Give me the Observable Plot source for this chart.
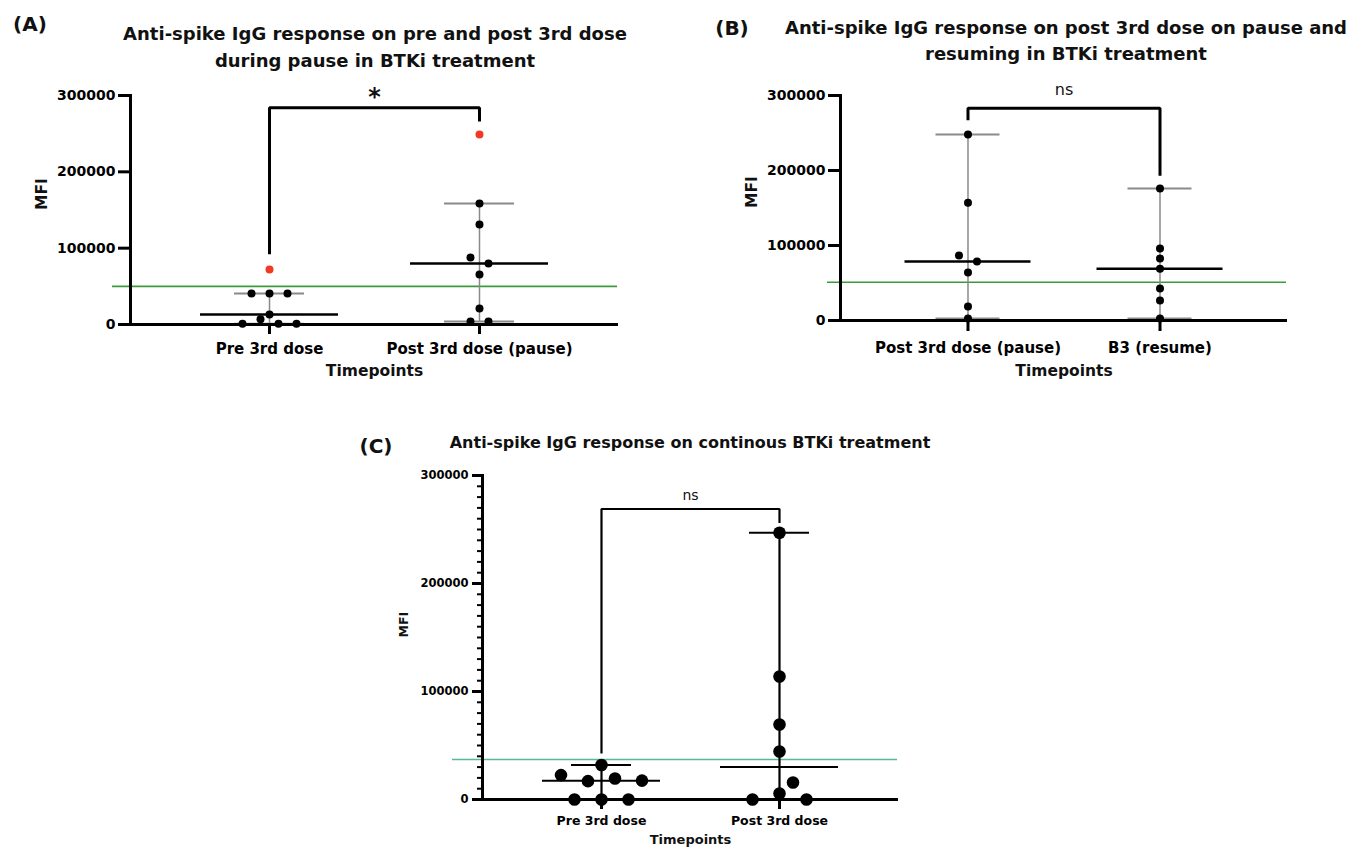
<!DOCTYPE html>
<html><head><meta charset="utf-8">
<script src="https://cdn.jsdelivr.net/npm/d3@7"></script>
<script src="https://cdn.jsdelivr.net/npm/@observablehq/plot@0.6"></script>
<style>
body{margin:0;background:#fff;font-family:"DejaVu Sans",sans-serif;}
#page{position:relative;width:1367px;height:852px;overflow:hidden;background:#fff}
.t{position:absolute;white-space:nowrap;font-weight:bold;color:#111;text-align:center;font-family:"DejaVu Sans",sans-serif}
</style></head><body><div id="page"></div>
<script>
// ---------- DATA ----------
const yTicks = [0, 100000, 200000, 300000];
const yMax = 300000;

// Panel A
const aTitle = ["Anti-spike IgG response on pre and post 3rd dose", "during pause in BTKi treatment"];
const aCategories = ["Pre 3rd dose", "Post 3rd dose (pause)"];
const aPre = [40500, 40500, 40500, 13000, 1000, 7000, 1000, 1000];
const aPreOutliers = [72000];
const aPost = [158500, 131000, 87800, 79900, 65500, 21000, 3900, 3900];
const aPostOutliers = [249000];
const aThreshold = 50000;
const aBracket = [92000, 284000, 266000];
const aSignif = "*";

// Panel B
const bTitle = ["Anti-spike IgG response on post 3rd dose on pause and", "resuming in BTKi treatment"];
const bCategories = ["Post 3rd dose (pause)", "B3 (resume)"];
const bPost = [248000, 157000, 86700, 78700, 64000, 18700, 2700];
const bResume = [176000, 96000, 82700, 69000, 42700, 26700, 2700];
const bThreshold = 51000;
const bBracket = [267000, 283000, 193000];
const bSignif = "ns";

// Panel C
const cTitle = ["Anti-spike IgG response on continous BTKi treatment"];
const cCategories = ["Pre 3rd dose", "Post 3rd dose"];
const cPre = [32000, 22600, 17000, 19500, 17500, 0, 0, 0];
const cPost = [247000, 113900, 69400, 44400, 15700, 0, 5600, 0];
const cThreshold = 37000;
const cBracket = [42600, 269000, 256000];
const cSignif = "ns";

// ---------- DRAWING ----------
const page = document.getElementById("page");

function addText(txt, left, top, width, size, lh, extra) {
  const d = document.createElement("div");
  d.className = "t";
  d.style.left = left + "px"; d.style.top = top + "px";
  d.style.width = width + "px"; d.style.fontSize = size + "px";
  d.style.lineHeight = lh + "px";
  if (extra) Object.assign(d.style, extra);
  d.innerHTML = txt;
  page.appendChild(d);
}

function drawPanel(cfg) {
  const p = cfg.pad;
  const plotW = cfg.width - cfg.ml - cfg.mr;
  const plotH = cfg.height - cfg.mt - cfg.mb;
  const step = plotW / (1 + 2 * p);
  const yPx = v => v / yMax * plotH;

  // simple row-based scatter layout (like a column scatter)
  const points = [];
  cfg.groups.forEach((vals, gi) => {
    const placed = [];
    const idx = vals.map((v, i) => i).sort((a, b) => vals[a] - vals[b] || a - b);
    const rows = [];
    let cur = null;
    for (const i of idx) {
      if (!cur || yPx(vals[i]) - cur.start > cfg.binH) { cur = {start: yPx(vals[i]), items: []}; rows.push(cur); }
      cur.items.push(i);
    }
    for (const row of rows) {
      row.items.sort((a, b) => a - b);
      const n = row.items.length;
      const base = row.items.map((_, k) => (k - (n - 1) / 2) * cfg.gap);
      const shifts = [0];
      for (let s = 1; s <= 8; s++) shifts.push(s * cfg.gap / 2, -s * cfg.gap / 2);
      let chosen = 0;
      for (const sh of shifts) {
        const ok = row.items.every((i, k) => placed.every(q => Math.hypot(q.ox - (base[k] + sh), q.oy - yPx(vals[i])) >= cfg.minDist));
        if (ok) { chosen = sh; break; }
      }
      row.items.forEach((i, k) => {
        placed.push({ox: base[k] + chosen, oy: yPx(vals[i])});
        points.push({x: gi + (base[k] + chosen) / step, y: vals[i], out: false});
      });
    }
    (cfg.outliers?.[gi] || []).forEach(v => points.push({x: gi, y: v, out: true}));
  });

  const stats = cfg.groups.map((vals, gi) => {
    const all = vals.concat(cfg.outliers?.[gi] || []);
    return {x: gi, median: d3.median(all), lo: d3.min(vals), hi: d3.max(vals)};
  });
  const b = cfg.bracket;
  const bracketPts = [{x: 0, y: b[0]}, {x: 0, y: b[1]}, {x: 1, y: b[1]}, {x: 1, y: b[2]}];

  const marks = [
    Plot.ruleY([cfg.threshold], {stroke: cfg.green, strokeWidth: 1.6, insetLeft: -cfg.greenExt, insetRight: 1}),
    Plot.ruleX(stats, {x: "x", y1: "lo", y2: "hi", stroke: cfg.whiskerColor, strokeWidth: cfg.whiskerW}),
    Plot.ruleY(stats, {y: "hi", x1: d => d.x - cfg.capW / step, x2: d => d.x + cfg.capW / step, stroke: cfg.capColor, strokeWidth: cfg.capSW}),
    Plot.ruleY(stats, {y: "lo", x1: d => d.x - cfg.capW / step, x2: d => d.x + cfg.capW / step, stroke: cfg.capColor, strokeWidth: cfg.capSW}),
    Plot.ruleY(stats, {y: "median", x1: d => d.x - cfg.medW / step, x2: d => d.x + cfg.medW / step, stroke: "#000", strokeWidth: cfg.medSW}),
  ];
  if (cfg.minor) marks.push(Plot.axisY({ticks: d3.range(0, yMax + 1, 10000), tickSize: cfg.minor, strokeWidth: 2, tickFormat: () => "", label: null}));
  marks.push(
    Plot.axisY({ticks: yTicks, tickFormat: d3.format("d"), tickSize: cfg.ytick, tickPadding: cfg.ypad, strokeWidth: 3,
      fontSize: cfg.tickFont, fontWeight: "bold", label: null}),
    Plot.axisX({ticks: [0, 1], tickFormat: i => cfg.categories[i], tickSize: cfg.xtick, tickPadding: cfg.xpad, strokeWidth: 3,
      fontSize: cfg.catFont, fontWeight: "bold", label: null}),
    Plot.frame({anchor: "left", strokeWidth: 3, stroke: "#000"}),
    Plot.ruleY([0], {strokeWidth: 3, stroke: "#000", insetLeft: -cfg.ytick}),
    Plot.text(["MFI"], {frameAnchor: "left", dx: cfg.mfiDx, rotate: -90, fontSize: cfg.mfiFont, fontWeight: "bold", fill: "#111"}),
    Plot.text(["Timepoints"], {frameAnchor: "bottom", dy: cfg.tpDy, fontSize: cfg.tpFont, fontWeight: "bold", fill: "#111"}),
    Plot.line(bracketPts, {x: "x", y: "y", stroke: "#000", strokeWidth: cfg.bracketW, strokeLinejoin: "miter", strokeLinecap: "butt"}),
    Plot.text([{x: 0.5, y: b[1], t: cfg.signif}], {x: "x", y: "y", text: "t", dy: cfg.sigDy, fontSize: cfg.sigFont,
      fontWeight: cfg.signif === "*" ? "bold" : "normal", fill: "#111"}),
    Plot.dot(points, {x: "x", y: "y", r: cfg.r, fill: d => d.out ? "#f03a24" : "#000", stroke: "none"})
  );

  const svg = Plot.plot({
    width: cfg.width, height: cfg.height,
    marginLeft: cfg.ml, marginRight: cfg.mr, marginTop: cfg.mt, marginBottom: cfg.mb,
    x: {type: "linear", domain: [-p, 1 + p], axis: null},
    y: {domain: [0, yMax], axis: null},
    style: {fontFamily: "DejaVu Sans, sans-serif", color: "#000", background: "transparent", overflow: "visible"},
    marks
  });
  svg.style.position = "absolute";
  svg.style.left = cfg.left + "px";
  svg.style.top = cfg.top + "px";
  page.appendChild(svg);
}

const commonAB = {
  r: 4, binH: 8, gap: 18, minDist: 9,
  whiskerColor: "#8a8a8a", whiskerW: 1.5, capColor: "#8a8a8a", capSW: 2, medSW: 2.5,
  ytick: 12, ypad: 3, tickFont: 14, xtick: 10, catFont: 15, mfiFont: 15.5, tpFont: 15.5,
  bracketW: 3, green: "#3c9a3c"
};

drawPanel(Object.assign({}, commonAB, {
  left: 0, top: 75, width: 660, height: 320, ml: 130, mr: 42, mt: 20, mb: 71, pad: 0.662,
  groups: [aPre, aPost], outliers: [aPreOutliers, aPostOutliers], categories: aCategories,
  threshold: aThreshold, bracket: aBracket, signif: aSignif,
  capW: 35, medW: 69, greenExt: 18, xpad: 9, mfiDx: -88, tpDy: 51, sigDy: -10, sigFont: 24
}));

drawPanel(Object.assign({}, commonAB, {
  left: 690, top: 75, width: 660, height: 320, ml: 150, mr: 63, mt: 20, mb: 75, pad: 0.664,
  groups: [bPost, bResume], outliers: null, categories: bCategories,
  threshold: bThreshold, bracket: bBracket, signif: bSignif,
  capW: 32, medW: 63, greenExt: 13, xtick: 11, xpad: 11, mfiDx: -88, tpDy: 55, sigDy: -18, sigFont: 16
}));

drawPanel({
  left: 340, top: 455, width: 600, height: 397, ml: 142, mr: 42, mt: 20, mb: 53, pad: 0.6685,
  groups: [cPre, cPost], outliers: null, categories: cCategories,
  threshold: cThreshold, bracket: cBracket, signif: cSignif,
  r: 6.3, binH: 13, gap: 27, minDist: 13.6,
  whiskerColor: "#000", whiskerW: 2.2, capColor: "#000", capSW: 2, medSW: 2, capW: 30, medW: 59,
  ytick: 10, ypad: 4, tickFont: 11.5, minor: 5, xtick: 10, xpad: 7, catFont: 12.5, mfiFont: 12.5, tpFont: 13,
  bracketW: 2.2, green: "#5cb894", greenExt: 30, mfiDx: -79, tpDy: 44, sigDy: -13, sigFont: 14
});

// Titles and panel letters
addText("(A)", 8, 12, 44, 20, 24);
addText(aTitle.join("<br>"), 75, 20, 600, 18, 27);
addText("(B)", 710, 16, 44, 20, 24);
addText(bTitle.join("<br>"), 766, 15, 600, 18, 26);
addText("(C)", 354, 434, 44, 20, 24);
addText(cTitle.join("<br>"), 440, 432, 500, 16, 22);
</script>
</body></html>
